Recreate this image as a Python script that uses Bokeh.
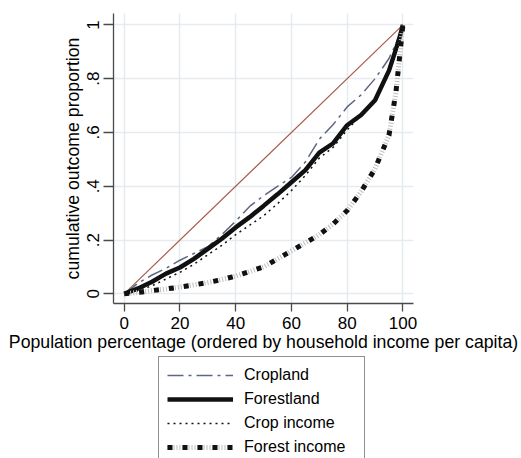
from bokeh.plotting import figure
from bokeh.models import Legend, LegendItem, FixedTicker, Range1d
from bokeh.layouts import column
from bokeh.embed import file_html
from bokeh.resources import INLINE

pop_pct = [0, 5, 10, 15, 20, 25, 30, 35, 40, 45, 50, 55, 60, 65, 70, 75, 80, 85, 90, 95, 97.5, 99, 100]
cropland = [0, 0.04, 0.07, 0.095, 0.125, 0.15, 0.175, 0.22, 0.27, 0.325, 0.365, 0.40, 0.433, 0.49, 0.575, 0.63, 0.695, 0.74, 0.80, 0.875, 0.93, 0.97, 1.0]
forestland = [0, 0.02, 0.045, 0.075, 0.098, 0.13, 0.167, 0.205, 0.247, 0.285, 0.327, 0.37, 0.415, 0.46, 0.525, 0.56, 0.627, 0.665, 0.72, 0.83, 0.91, 0.96, 1.0]
crop_income = [0, 0.012, 0.03, 0.055, 0.08, 0.11, 0.145, 0.18, 0.22, 0.255, 0.29, 0.335, 0.384, 0.44, 0.505, 0.545, 0.61, 0.665, 0.72, 0.83, 0.91, 0.96, 1.0]
forest_income = [0, 0.005, 0.012, 0.018, 0.025, 0.033, 0.042, 0.053, 0.066, 0.083, 0.10, 0.13, 0.16, 0.19, 0.22, 0.26, 0.31, 0.38, 0.465, 0.59, 0.75, 0.90, 1.0]
equality_x = [0, 100]
equality_y = [0, 1]

x_ticks = [0, 20, 40, 60, 80, 100]
y_ticks = [0, 0.2, 0.4, 0.6, 0.8, 1.0]
y_tick_labels = {0: "0", 0.2: ".2", 0.4: ".4", 0.6: ".6", 0.8: ".8", 1.0: "1"}
series_names = ["Cropland", "Forestland", "Crop income", "Forest income"]

FONT = "Liberation Sans"

STYLES = {
    "Cropland": [dict(line_color="#5d6782", line_width=1.5, line_dash="16 5 3 5")],
    "Forestland": [dict(line_color="#111111", line_width=4.5)],
    "Crop income": [dict(line_color="#111111", line_width=1.5, line_dash="2 4")],
    "Forest income": [dict(line_color="#bdbdbd", line_width=5, line_dash="1 2"),
                      dict(line_color="#111111", line_width=5, line_dash="5 10")],
}
SERIES = {"Cropland": cropland, "Forestland": forestland,
          "Crop income": crop_income, "Forest income": forest_income}

p = figure(width=521, height=356, output_backend="svg", toolbar_location=None,
           x_range=Range1d(-3.84, 103.8), y_range=Range1d(-0.036, 1.0425),
           min_border_left=113, min_border_right=108, min_border_top=13, min_border_bottom=53)
p.outline_line_color = None
p.background_fill_color = "white"

for g in (p.xgrid, p.ygrid):
    g.grid_line_color = "#e6ebef"
    g.grid_line_width = 1.5
p.xaxis.ticker = FixedTicker(ticks=x_ticks)
p.yaxis.ticker = FixedTicker(ticks=y_ticks)
p.yaxis.major_label_overrides = y_tick_labels
p.yaxis.major_label_orientation = "vertical"

for ax in (p.xaxis[0], p.yaxis[0]):
    ax.axis_line_color = "#4a4a4a"
    ax.axis_line_width = 1.3
    ax.major_tick_line_color = "#4a4a4a"
    ax.major_tick_line_width = 1.3
    ax.major_tick_in = 0
    ax.minor_tick_line_color = None
    ax.major_label_text_font = FONT
    ax.major_label_text_font_size = "17px"
    ax.major_label_text_color = "black"
    ax.axis_label_text_font = FONT
    ax.axis_label_text_font_size = "17.7px"
    ax.axis_label_text_font_style = "normal"
    ax.axis_label_text_color = "black"
p.xaxis.major_tick_out = 8
p.yaxis.major_tick_out = 10
p.xaxis.major_label_standoff = 5
p.yaxis.major_label_standoff = 4
p.xaxis.axis_label_standoff = 0
p.yaxis.axis_label_standoff = 2

p.xaxis.axis_label = "Population percentage (ordered by household income per capita)"
p.yaxis.axis_label = "cumulative outcome proportion"

p.line(equality_x, equality_y, line_color="#a85c4a", line_width=1.2)
for name in series_names:
    for st in STYLES[name]:
        p.line(pop_pct, SERIES[name], **st)

# legend panel below the plot (its frame is aligned with the plot frame: 113..413)
lg = figure(width=521, height=102, output_backend="svg", toolbar_location=None,
            x_range=Range1d(0, 1), y_range=Range1d(0, 1),
            x_axis_type=None, y_axis_type=None, min_border=0,
            min_border_left=113, min_border_right=108)
lg.outline_line_color = None
lg.xgrid.visible = False
lg.ygrid.visible = False
items = []
for name in series_names:
    # off-range proxy lines that only feed the legend glyphs
    rs = [lg.line(pop_pct[:2], [5, 5], **st) for st in STYLES[name]]
    items.append(LegendItem(label=name, renderers=rs))

legend = Legend(items=items, location=(45, -8), orientation="vertical")
legend.label_text_font = FONT
legend.label_text_font_size = "16px"
legend.label_text_color = "black"
legend.border_line_color = "#222222"
legend.border_line_width = 1.2
legend.glyph_width = 66
legend.glyph_height = 20
legend.spacing = 4
legend.padding = 8
legend.margin = 0
legend.label_standoff = 11
legend.label_height = 20
legend.label_width = 112
lg.add_layout(legend, "center")

layout = column(p, lg, spacing=0)
open("out.html", "w").write(file_html(layout, INLINE))
